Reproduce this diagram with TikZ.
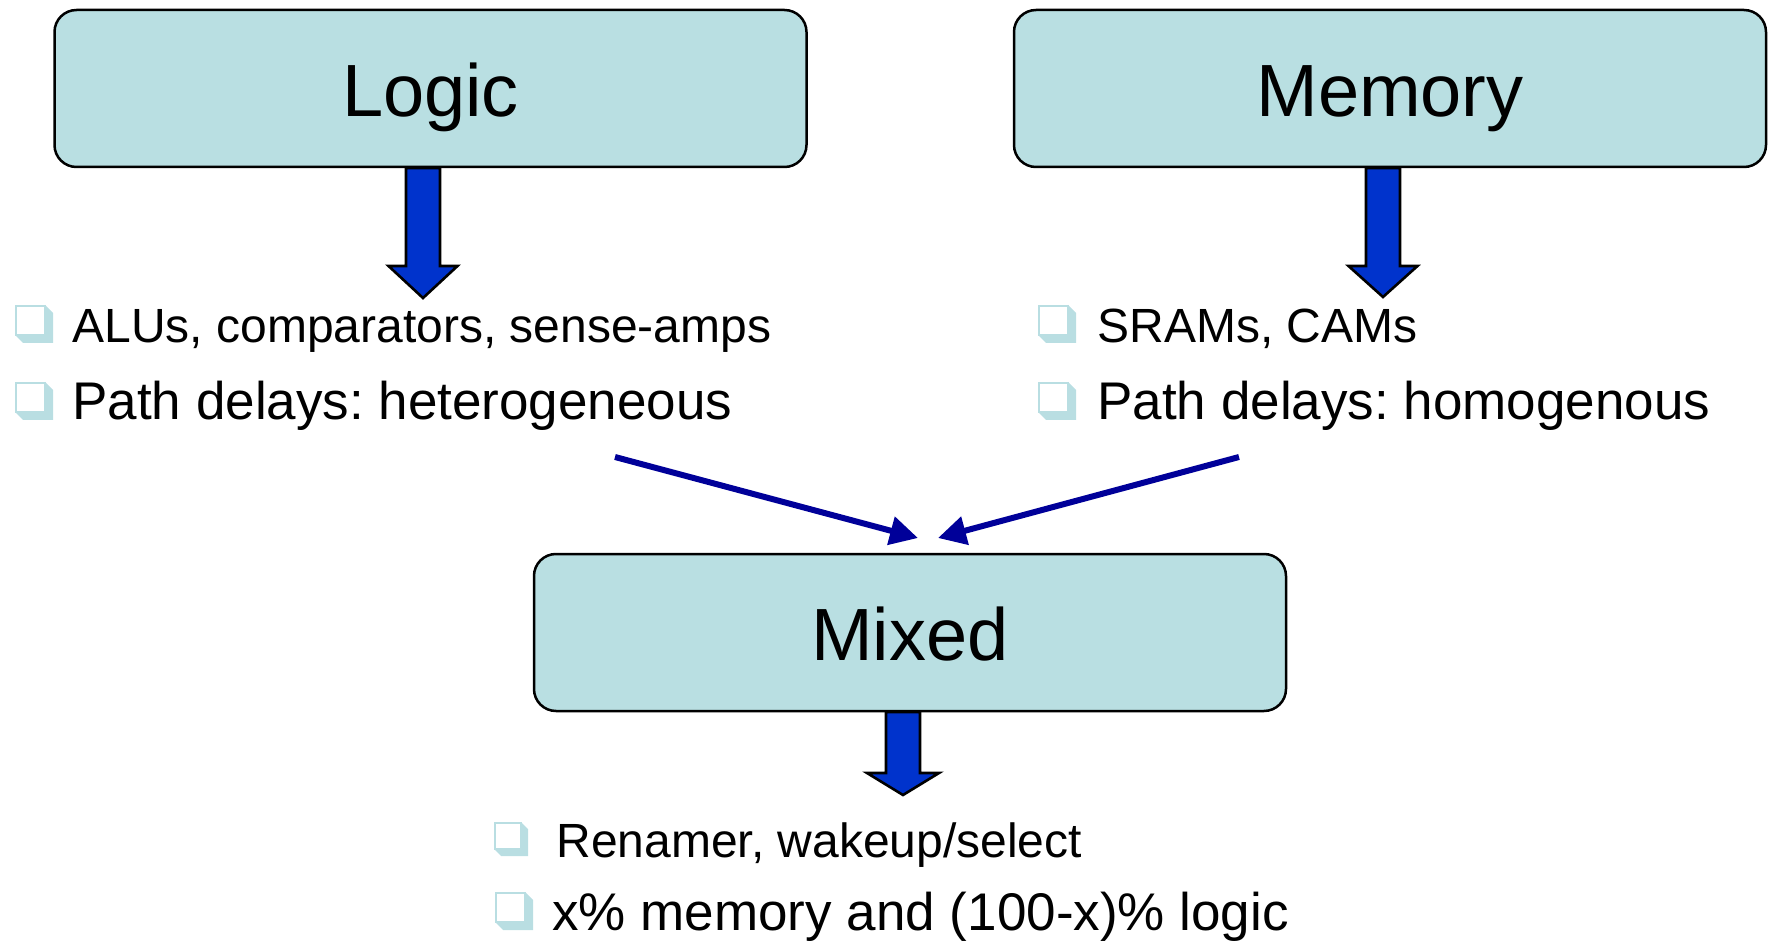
\documentclass[tikz,border=0pt]{standalone}
\usepackage{fontspec}
\setmainfont{Liberation Sans}
\usetikzlibrary{arrows.meta}
\frenchspacing

\definecolor{boxfill}{RGB}{185,223,226}
\definecolor{chkblue}{RGB}{185,222,226}
\definecolor{blockblue}{RGB}{0,51,204}
\definecolor{navy}{RGB}{0,0,153}

\tikzset{
  titlebox/.style={draw=black, line width=1.25pt, fill=boxfill, rounded corners=11pt,
    minimum width=376pt, minimum height=78.5pt, inner sep=0pt,
    text height=28pt, text depth=0pt, font=\fontsize{37}{44}\selectfont},
  itemsmall/.style={anchor=base west, inner sep=0pt, font=\fontsize{24}{28}\selectfont},
  itemlarge/.style={anchor=base west, inner sep=0pt, font=\fontsize{26.5}{31}\selectfont},
  blockarrow/.style={draw=black, line width=1.3pt, fill=blockblue, line join=miter},
  feed/.style={draw=navy, line width=3pt, -{Triangle[length=14pt,width=14pt]}},
  pics/chkbox/.style={code={
    \fill[chkblue] (30,0) -- (38,8) -- (38,38) -- (8,38) -- (0,30) -- (30,30) -- cycle;
    \draw[chkblue, line width=1.1pt] (1.1,1.1) rectangle (30,30);
  }}
}

\begin{document}
\begin{tikzpicture}[x=0.5pt, y=-0.5pt]
  \useasboundingbox (0,0) rectangle (1769,941);

  % category boxes
  \node[titlebox] (logic)  at (430.5,88.5) {Logic};
  \node[titlebox] (memory) at (1390,88.5)  {Memory};
  \node[titlebox] (mixed)  at (910,632.5)  {Mixed};

  % block arrows below each box
  \draw[blockarrow, shift={(423,168)}]
    (-17,0) -- (17,0) -- (17,98) -- (34.5,98) -- (0,130) -- (-34.5,98) -- (-17,98) -- cycle;
  \draw[blockarrow, shift={(1383,168)}]
    (-17,0) -- (17,0) -- (17,98) -- (34.5,98) -- (0,129) -- (-34.5,98) -- (-17,98) -- cycle;
  \draw[blockarrow, shift={(903,712)}]
    (-17,0) -- (17,0) -- (17,61) -- (36,61) -- (0,83) -- (-36,61) -- (-17,61) -- cycle;

  % bullet lists
  \pic at (15,305)   {chkbox};
  \pic at (15,382)   {chkbox};
  \node[itemsmall] (l1) at (72,343) {ALUs, comparators, sense-amps};
  \node[itemlarge] (l2) at (72,420) {Path delays: heterogeneous};

  \pic at (1038,305) {chkbox};
  \pic at (1038,382) {chkbox};
  \node[itemsmall] (r1) at (1097,343) {SRAMs, CAMs};
  \node[itemlarge] (r2) at (1097,420) {Path delays: homogenous};

  \pic[scale=0.895] at (494,822) {chkbox};
  \pic at (495,892)  {chkbox};
  \node[itemsmall] (b1) at (556,857) {Renamer, wakeup/select};
  \node[itemlarge] (b2) at (552,930) {x\% memory and (100-x)\% logic};

  % feeds from both sides into the mixed box
  \coordinate (lfrom) at (615,457);
  \coordinate (lto)   at (918,538);
  \coordinate (rfrom) at (1239,457);
  \coordinate (rto)   at (938,538);
  \draw[feed] (lfrom) -- (lto);
  \draw[feed] (rfrom) -- (rto);
\end{tikzpicture}
\end{document}
